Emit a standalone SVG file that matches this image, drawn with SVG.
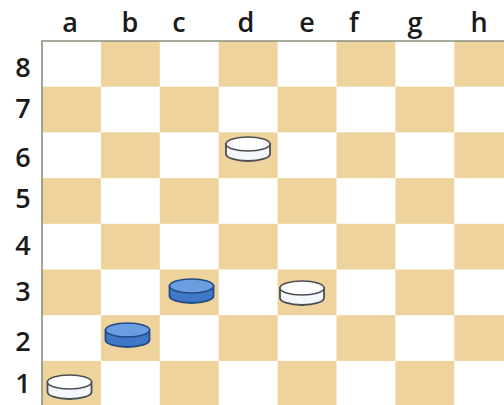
<svg xmlns="http://www.w3.org/2000/svg" xmlns:xlink="http://www.w3.org/1999/xlink" width="504" height="405" viewBox="0 0 504 405">
<style>
.t{fill:#efd39c}
.lbl{font-family:"Open Sans","Liberation Sans",sans-serif;font-size:27px;font-weight:600;fill:#1a1a1a;text-anchor:middle}
.wside{fill:#f4f8fc;stroke:#4a4f55;stroke-width:1.8}
.wtop{fill:#ffffff;stroke:#4a4f55;stroke-width:1.5}
.bside{fill:#3f78c8;stroke:#244a85;stroke-width:1.8}
.btop{fill:#6b9ee0;stroke:#244a85;stroke-width:1.5}
</style>
<defs>
<g id="wdisc"><path class="wside" d="M-22,0 L-22,10 A22,7 0 0 0 22,10 L22,0 Z"/><ellipse class="wtop" cx="0" cy="0" rx="22" ry="7"/></g>
<g id="bdisc"><path class="bside" d="M-22,0 L-22,10 A22,7 0 0 0 22,10 L22,0 Z"/><ellipse class="btop" cx="0" cy="0" rx="22" ry="7"/></g>
</defs>
<rect width="504" height="405" fill="#fff"/>
<g id="board">
<rect class="t" x="100.9" y="41" width="58.9" height="45.7"/><rect class="t" x="218.7" y="41" width="58.9" height="45.7"/><rect class="t" x="336.5" y="41" width="58.9" height="45.7"/><rect class="t" x="454.3" y="41" width="58.9" height="45.7"/>
<rect class="t" x="42" y="86.7" width="58.9" height="45.7"/><rect class="t" x="159.8" y="86.7" width="58.9" height="45.7"/><rect class="t" x="277.6" y="86.7" width="58.9" height="45.7"/><rect class="t" x="395.4" y="86.7" width="58.9" height="45.7"/>
<rect class="t" x="100.9" y="132.4" width="58.9" height="45.7"/><rect class="t" x="218.7" y="132.4" width="58.9" height="45.7"/><rect class="t" x="336.5" y="132.4" width="58.9" height="45.7"/><rect class="t" x="454.3" y="132.4" width="58.9" height="45.7"/>
<rect class="t" x="42" y="178.1" width="58.9" height="45.7"/><rect class="t" x="159.8" y="178.1" width="58.9" height="45.7"/><rect class="t" x="277.6" y="178.1" width="58.9" height="45.7"/><rect class="t" x="395.4" y="178.1" width="58.9" height="45.7"/>
<rect class="t" x="100.9" y="223.8" width="58.9" height="45.7"/><rect class="t" x="218.7" y="223.8" width="58.9" height="45.7"/><rect class="t" x="336.5" y="223.8" width="58.9" height="45.7"/><rect class="t" x="454.3" y="223.8" width="58.9" height="45.7"/>
<rect class="t" x="42" y="269.5" width="58.9" height="45.7"/><rect class="t" x="159.8" y="269.5" width="58.9" height="45.7"/><rect class="t" x="277.6" y="269.5" width="58.9" height="45.7"/><rect class="t" x="395.4" y="269.5" width="58.9" height="45.7"/>
<rect class="t" x="100.9" y="315.2" width="58.9" height="45.7"/><rect class="t" x="218.7" y="315.2" width="58.9" height="45.7"/><rect class="t" x="336.5" y="315.2" width="58.9" height="45.7"/><rect class="t" x="454.3" y="315.2" width="58.9" height="45.7"/>
<rect class="t" x="42" y="360.9" width="58.9" height="45.7"/><rect class="t" x="159.8" y="360.9" width="58.9" height="45.7"/><rect class="t" x="277.6" y="360.9" width="58.9" height="45.7"/><rect class="t" x="395.4" y="360.9" width="58.9" height="45.7"/>
<path d="M42,405 L42,41 L504,41" fill="none" stroke="#86937c" stroke-width="1.6"/>
</g>
<g id="labels">
<text class="lbl" x="70" y="32">a</text><text class="lbl" x="130" y="32">b</text><text class="lbl" x="179" y="32">c</text><text class="lbl" x="246" y="32">d</text><text class="lbl" x="307" y="32">e</text><text class="lbl" x="354" y="32">f</text><text class="lbl" x="415" y="32">g</text><text class="lbl" x="479" y="32">h</text>
<text class="lbl" x="23" y="77">8</text><text class="lbl" x="23" y="118">7</text><text class="lbl" x="23" y="167">6</text><text class="lbl" x="23" y="208">5</text><text class="lbl" x="23" y="255">4</text><text class="lbl" x="23" y="301">3</text><text class="lbl" x="23" y="351">2</text><text class="lbl" x="23" y="393">1</text>
</g>
<g id="piece-a1"><use xlink:href="#wdisc" x="69.5" y="382"/></g>
<g id="piece-b2"><use xlink:href="#bdisc" x="127.5" y="330"/></g>
<g id="piece-c3"><use xlink:href="#bdisc" x="191.5" y="286"/></g>
<g id="piece-d6"><use xlink:href="#wdisc" x="248" y="144"/></g>
<g id="piece-e3"><use xlink:href="#wdisc" x="302" y="288"/></g>
<g id="connectors"/>
</svg>
